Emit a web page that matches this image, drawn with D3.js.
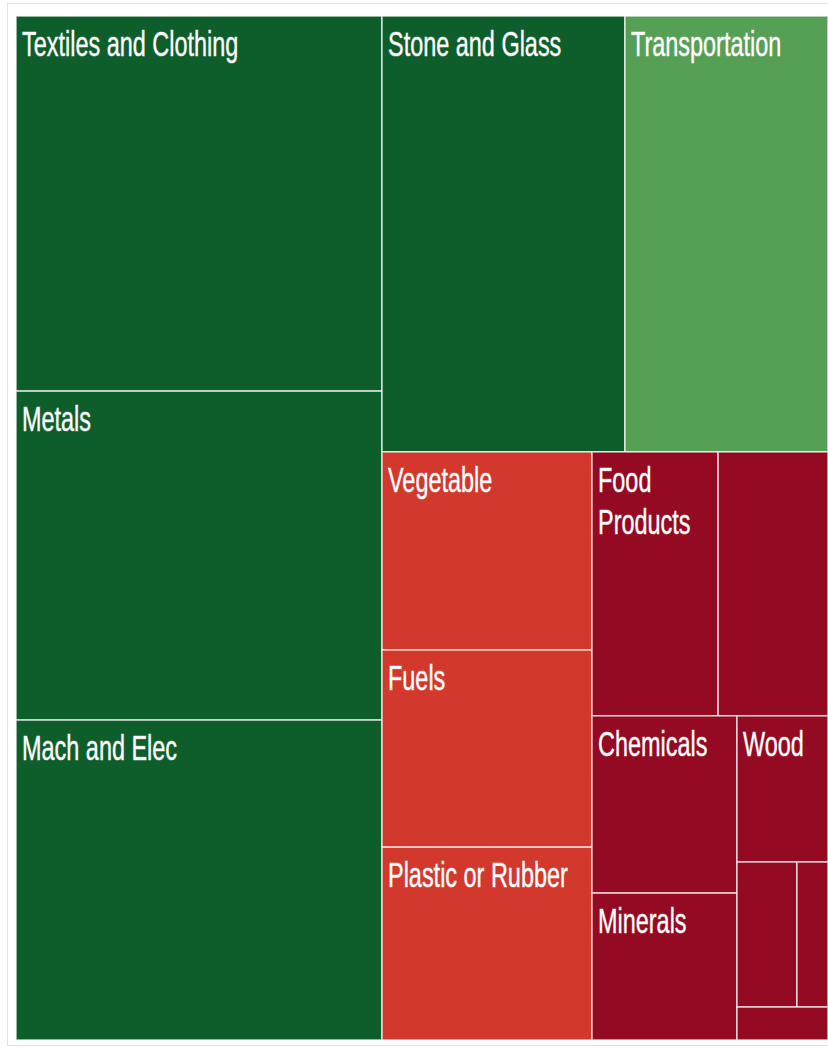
<!DOCTYPE html>
<html>
<head>
<meta charset="utf-8">
<script src="https://cdn.jsdelivr.net/npm/d3@7"></script>
<style>
  html, body { margin: 0; padding: 0; background: #ffffff; }
  svg { display: block; }
</style>
</head>
<body>
<svg id="chart" width="828" height="1050"></svg>
<script>
// ---- data ----
const categories = ["Textiles and Clothing", "Metals", "Mach and Elec", "Stone and Glass", "Transportation",
  "Vegetable", "Fuels", "Plastic or Rubber", "Food Products", "", "Chemicals", "Minerals", "Wood", "", "", ""];
const values = [1373, 1204, 1171, 1059, 885, 416, 414, 405, 333, 290, 257, 213, 133, 87, 45, 30];
// nesting used by the slice-and-dice layout
const groupPath = ["L", "L", "L", "R.T", "R.T", "R.B.V", "R.B.V", "R.B.V",
  "R.B.X.T", "R.B.X.T", "R.B.X.B.C", "R.B.X.B.C", "R.B.X.B.W", "R.B.X.B.W.S", "R.B.X.B.W.S", "R.B.X.B.W"];
const changeClass = ["strong gain", "strong gain", "strong gain", "strong gain", "gain",
  "loss", "loss", "loss", "strong loss", "strong loss", "strong loss", "strong loss", "strong loss",
  "strong loss", "strong loss", "strong loss"];
const classNames = ["strong gain", "gain", "loss", "strong loss"];
const classColors = ["#0e5e2c", "#55a055", "#d3382c", "#930a22"];

// ---- build hierarchy ----
function build() {
  const root = { name: "root", children: [] };
  categories.forEach((c, i) => {
    let node = root;
    groupPath[i].split(".").forEach(k => {
      let ch = node.children.find(d => d.name === k && d.children);
      if (!ch) { ch = { name: k, children: [] }; node.children.push(ch); }
      node = ch;
    });
    node.children.push({ name: c, value: values[i], cls: changeClass[i] });
  });
  return root;
}

const W = 812, H = 1024, X0 = 16, Y0 = 16;
const color = d3.scaleOrdinal().domain(classNames).range(classColors);

const root = d3.hierarchy(build()).sum(d => d.value || 0);
d3.treemap().tile(d3.treemapSliceDice).size([W, H]).round(false)(root);

const svg = d3.select("#chart");
// faint outer frame
svg.append("rect").attr("x", 7.5).attr("y", 3.5).attr("width", 830).attr("height", 1042)
  .attr("fill", "none").attr("stroke", "#e2e2e2").attr("stroke-width", 1);

const g = svg.append("g").attr("transform", `translate(${X0},${Y0})`);
const leaves = root.leaves();

const cell = g.selectAll("g.cell").data(leaves).join("g").attr("class", "cell");
cell.append("rect")
  .attr("x", d => d.x0).attr("y", d => d.y0)
  .attr("width", d => d.x1 - d.x0).attr("height", d => d.y1 - d.y0)
  .attr("fill", d => color(d.data.cls))
  .attr("stroke", "rgba(255,255,255,0.75)").attr("stroke-width", 1.5);

const FS = 35, SX = 0.67, LH = 42;
cell.filter(d => d.data.name).each(function (d) {
  const w = d.x1 - d.x0 - 10;
  const t = d3.select(this).append("text")
    .attr("transform", `translate(${d.x0 + 6},${d.y0 + 40}) scale(${SX},1)`)
    .attr("font-family", "'Liberation Sans Narrow', 'Arial Narrow', 'Liberation Sans', Arial, sans-serif")
    .attr("font-size", FS)
    .attr("fill", "#ffffff")
    .attr("stroke", "rgba(255,255,255,0.45)").attr("stroke-width", 1)
    .attr("paint-order", "stroke");
  const words = d.data.name.split(" ");
  let line = [];
  let ts = t.append("tspan").attr("x", 0).attr("dy", 0);
  words.forEach(word => {
    line.push(word);
    ts.text(line.join(" "));
    if (ts.node().getComputedTextLength() * SX > w && line.length > 1) {
      line.pop();
      ts.text(line.join(" "));
      line = [word];
      ts = t.append("tspan").attr("x", 0).attr("dy", LH).text(word);
    }
  });
});
</script>
</body>
</html>
